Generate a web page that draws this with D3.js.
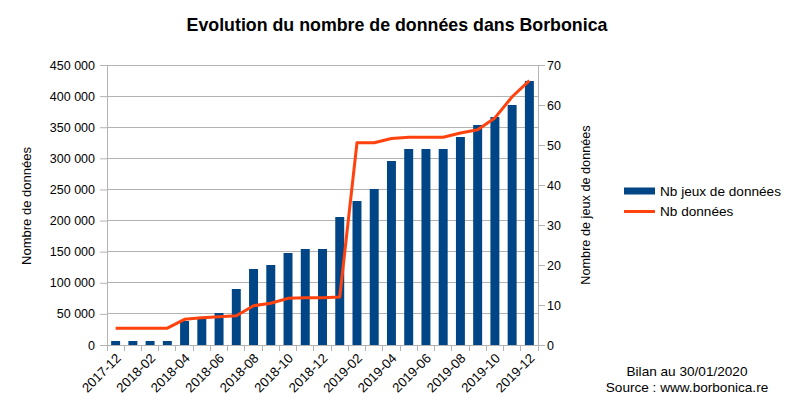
<!DOCTYPE html>
<html><head><meta charset="utf-8">
<script src="https://cdn.jsdelivr.net/npm/d3@7"></script>
<style>body{margin:0;background:#fff}svg{display:block;font-family:"Liberation Sans",Arial,sans-serif}</style>
</head><body><svg id="c" width="791" height="411"></svg>
<script>
const months = ["2017-12","2018-01","2018-02","2018-03","2018-04","2018-05","2018-06","2018-07","2018-08","2018-09","2018-10","2018-11","2018-12","2019-01","2019-02","2019-03","2019-04","2019-05","2019-06","2019-07","2019-08","2019-09","2019-10","2019-11","2019-12"];
const nbJeux = [1,1,1,1,6,6.5,8,14,19,20,23,24,24,32,36,39,46,49,49,49,52,55,57,60,66];
const nbDonnees = [27000,27000,27000,27000,41300,43900,45500,47100,63200,67000,75000,76000,76000,77100,325000,325000,332000,334000,334000,334000,340700,346000,365000,399000,424800];
const leftTicks = [0,50000,100000,150000,200000,250000,300000,350000,400000,450000];
const rightTicks = [0,10,20,30,40,50,60,70];

const svg = d3.select("#c");
const L = 107, R = 538, T = 65, B = 345;
const x = d3.scaleBand().domain(months).range([L, R]).paddingInner(0.48).paddingOuter(0.24);
const xb = d3.scaleBand().domain(months).range([L, R]);
const yL = d3.scaleLinear().domain([0,450000]).range([B, T]);
const yR = d3.scaleLinear().domain([0,70]).range([B, T]);
const grid = "#b3b3b3";
const fmt = v => d3.format(",")(v).replace(/,/g, " ");

// gridlines
svg.append("g").selectAll("line").data(leftTicks).join("line")
  .attr("x1", L).attr("x2", R).attr("y1", d => yL(d)).attr("y2", d => yL(d))
  .attr("stroke", grid).attr("stroke-width", 1).attr("shape-rendering","crispEdges");

// left axis
const gL = svg.append("g").attr("transform", `translate(${L},0)`)
  .call(d3.axisLeft(yL).tickValues(leftTicks).tickFormat(fmt).tickSize(7).tickPadding(5));
// right axis
const gR = svg.append("g").attr("transform", `translate(${R},0)`)
  .call(d3.axisRight(yR).tickValues(rightTicks).tickSize(7).tickPadding(2));
[gL, gR].forEach(g => {
  g.select(".domain").attr("stroke", grid);
  g.selectAll(".tick line").attr("stroke", grid);
  g.selectAll("text").attr("font-size", 12.5).attr("fill", "#000").attr("font-family", "Liberation Sans, Arial, sans-serif");
});

// x axis
const bounds = months.map(m => xb(m)).concat([R]);
svg.append("g").selectAll("line").data(bounds).join("line")
  .attr("x1", d => d).attr("x2", d => d).attr("y1", B).attr("y2", B + 6)
  .attr("stroke", grid).attr("shape-rendering","crispEdges");
svg.append("line").attr("x1", L).attr("x2", R).attr("y1", B).attr("y2", B)
  .attr("stroke", grid).attr("shape-rendering","crispEdges");

// bars
svg.append("g").selectAll("rect").data(months).join("rect")
  .attr("x", d => x(d)).attr("width", x.bandwidth())
  .attr("y", (d,i) => yR(nbJeux[i])).attr("height", (d,i) => B - yR(nbJeux[i]))
  .attr("fill", "#004586");

// line
const line = d3.line().x((d,i) => xb(months[i]) + xb.bandwidth()/2).y(d => yL(d));
svg.append("path").datum(nbDonnees).attr("d", line)
  .attr("fill", "none").attr("stroke", "#ff420e").attr("stroke-width", 3).attr("stroke-linejoin","round");

// x labels
svg.append("g").selectAll("text").data(months.filter((d,i) => i % 2 === 0)).join("text")
  .attr("transform", d => `translate(${xb(d) + xb.bandwidth()/2 + 6},${B + 14}) rotate(-45)`)
  .attr("text-anchor", "end").attr("font-size", 13.2).text(d => d);

// titles
svg.append("text").attr("x", 397).attr("y", 31).attr("text-anchor","middle")
  .attr("font-weight","bold").attr("font-size", 17.8).text("Evolution du nombre de données dans Borbonica");
svg.append("text").attr("transform","translate(31,206) rotate(-90)").attr("text-anchor","middle")
  .attr("font-size", 13).text("Nombre de données");
svg.append("text").attr("transform","translate(590,205) rotate(-90)").attr("text-anchor","middle")
  .attr("font-size", 12.7).text("Nombre de jeux de données");

// legend
svg.append("rect").attr("x", 624).attr("y", 187.5).attr("width", 31).attr("height", 7).attr("fill", "#004586");
svg.append("text").attr("x", 660).attr("y", 196).attr("font-size", 13.6).text("Nb jeux de données");
svg.append("line").attr("x1", 624).attr("x2", 655).attr("y1", 211.5).attr("y2", 211.5).attr("stroke", "#ff420e").attr("stroke-width", 3);
svg.append("text").attr("x", 660).attr("y", 216).attr("font-size", 13.6).text("Nb données");

// footer
svg.append("text").attr("x", 687).attr("y", 376).attr("text-anchor","middle").attr("font-size", 13.6).text("Bilan au 30/01/2020");
svg.append("text").attr("x", 687).attr("y", 392).attr("text-anchor","middle").attr("font-size", 13.6).text("Source : www.borbonica.re");
</script></body></html>
